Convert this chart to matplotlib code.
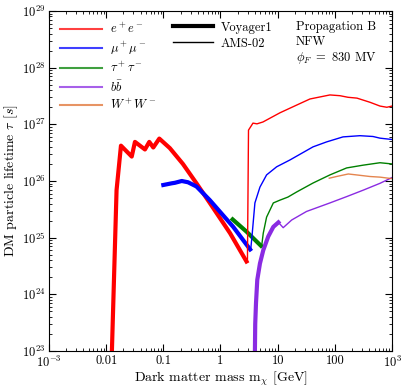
import matplotlib
matplotlib.use("Agg")
import matplotlib.pyplot as plt
from matplotlib.lines import Line2D
from matplotlib.ticker import LogLocator, FixedLocator, FixedFormatter, NullFormatter

plt.rcParams['font.family'] = 'serif'
plt.rcParams['font.serif'] = ['cmr10', 'DejaVu Serif']
plt.rcParams['mathtext.fontset'] = 'cm'
plt.rcParams['axes.unicode_minus'] = False
plt.rcParams['axes.formatter.use_mathtext'] = True

# Voyager1 (thick) curves: mass [GeV], lifetime [s]
voy_ee_m = [0.0126, 0.0152, 0.01815, 0.028, 0.0319, 0.0477, 0.0568, 0.0667, 0.085,
            0.13, 0.22, 0.38, 0.65, 1.47, 2.85]
voy_ee_t = [1.0e23, 6.9e25, 4.2e26, 2.7e26, 4.9e26, 3.6e26, 4.9e26, 3.9e26, 5.6e26,
            3.8e26, 2.0e26, 9.1e25, 4.1e25, 1.2e25, 3.8e24]
voy_mm_m = [0.1, 0.14, 0.16, 0.21, 0.27, 0.38, 0.65, 1.67, 3.3]
voy_mm_t = [8.5e25, 9.1e25, 9.3e25, 1.0e26, 9.5e25, 8.0e25, 4.6e25, 1.55e25, 6.2e24]
voy_tt_m = [1.63, 2.87, 5.1]
voy_tt_t = [2.1e25, 1.27e25, 7.2e24]
voy_bb_m = [4.0, 4.05, 4.18, 4.4, 4.9, 5.6, 6.85, 8.4, 10.3]
voy_bb_t = [1.0e23, 3.0e23, 7.0e23, 1.8e24, 3.5e24, 6.0e24, 1.05e25, 1.55e25, 1.86e25]

# AMS-02 (thin) curves
ams_ee_m = [2.96, 3.09, 3.7, 4.35, 5.53, 11.0, 21.8, 36.7, 82, 123, 170, 244, 412, 617, 813, 1000]
ams_ee_t = [3.7e24, 7.9e26, 1.05e27, 1.02e27, 1.1e27, 1.6e27, 2.2e27, 2.8e27, 3.3e27,
            3.2e27, 3.0e27, 2.9e27, 2.45e27, 2.1e27, 2.0e27, 2.1e27]
ams_mm_m = [3.37, 3.56, 4.0, 4.9, 6.4, 9.6, 16.4, 41.5, 72, 139, 275, 465, 617, 1000]
ams_mm_t = [6.0e24, 1.07e25, 4.1e25, 7.8e25, 1.28e26, 1.78e26, 2.35e26, 4.0e26, 4.9e26,
            6.0e26, 6.3e26, 6.1e26, 5.7e26, 5.4e26]
ams_tt_m = [5.25, 5.6, 6.4, 8.4, 11.0, 15.1, 21.5, 41.5, 82, 161, 310, 617, 1000]
ams_tt_t = [7.1e24, 1.2e25, 2.3e25, 4.1e25, 4.6e25, 5.2e25, 6.4e25, 9.2e25, 1.28e26,
            1.7e26, 1.9e26, 2.1e26, 2.0e26]
ams_bb_m = [10.3, 12.5, 17.6, 32, 82, 161, 315, 617, 1000]
ams_bb_t = [1.86e25, 1.5e25, 2.05e25, 2.9e25, 4.1e25, 5.3e25, 6.9e25, 9.1e25, 1.15e26]
ams_ww_m = [80, 107, 172, 240, 412, 617, 1000]
ams_ww_t = [1.12e26, 1.2e26, 1.33e26, 1.28e26, 1.2e26, 1.17e26, 1.1e26]

channels = [r'$e^+e^-$', r'$\mu^+\mu^-$', r'$\tau^+\tau^-$', r'$b\bar{b}$', r'$W^+W^-$']
colors = ['#ff0000', '#0000ff', '#008000', '#8a2be2', '#e07030']

fig = plt.figure(figsize=(4.07, 3.91), dpi=100)
ax = fig.add_axes([0.1204, 0.1023, 0.8427, 0.8696])

thick = 3.0
thin = 1.0
ax.plot(voy_ee_m, voy_ee_t, color=colors[0], lw=thick)
ax.plot(voy_mm_m, voy_mm_t, color=colors[1], lw=thick)
ax.plot(voy_tt_m, voy_tt_t, color=colors[2], lw=thick)
ax.plot(voy_bb_m, voy_bb_t, color=colors[3], lw=thick)

ax.plot(ams_ee_m, ams_ee_t, color=colors[0], lw=thin)
ax.plot(ams_mm_m, ams_mm_t, color=colors[1], lw=thin)
ax.plot(ams_tt_m, ams_tt_t, color=colors[2], lw=thin)
ax.plot(ams_bb_m, ams_bb_t, color=colors[3], lw=thin)
ax.plot(ams_ww_m, ams_ww_t, color=colors[4], lw=thin, alpha=0.85)

ax.set_xscale('log')
ax.set_yscale('log')
ax.set_xlim(1e-3, 1e3)
ax.set_ylim(1e23, 1e29)

xt = [1e-3, 1e-2, 1e-1, 1, 10, 100, 1e3]
xl = [r'$10^{-3}$', '0.01', '0.1', '1', '10', '100', r'$10^{3}$']
ax.xaxis.set_major_locator(FixedLocator(xt))
ax.xaxis.set_major_formatter(FixedFormatter(xl))
ax.xaxis.set_minor_locator(LogLocator(base=10, subs=range(2, 10), numticks=20))
ax.xaxis.set_minor_formatter(NullFormatter())
ax.yaxis.set_major_locator(LogLocator(base=10, numticks=10))
ax.yaxis.set_minor_locator(LogLocator(base=10, subs=range(2, 10), numticks=20))
ax.yaxis.set_minor_formatter(NullFormatter())

ax.tick_params(which='both', direction='in', top=True, right=True, labelsize=9)
ax.tick_params(which='major', length=5, pad=2.5)
ax.tick_params(which='minor', length=2.5)

ax.set_xlabel(r'Dark matter mass m$_\chi$ [GeV]', fontsize=10, labelpad=0)
ax.set_ylabel(r'DM particle lifetime $\tau$ [$s$]', fontsize=10, labelpad=1)

h1 = [Line2D([], [], color=c, lw=thin + 0.5, alpha=0.75) for c in colors]
leg1 = ax.legend(h1, channels, loc='upper left', frameon=False, fontsize=9,
                 handlelength=3.4, handletextpad=0.6, labelspacing=0.3,
                 borderaxespad=0.45)
ax.add_artist(leg1)
h2 = [Line2D([], [], color='black', lw=thick), Line2D([], [], color='black', lw=thin)]
ax.legend(h2, ['Voyager1', 'AMS-02'], loc='upper left', bbox_to_anchor=(0.33, 1.0),
          frameon=False, fontsize=9, handlelength=3.2, handletextpad=0.6,
          labelspacing=0.3, borderaxespad=0.45)

ax.text(0.72, 0.97, 'Propagation B\nNFW\n' + r'$\phi_F\ =\ 830$ MV', transform=ax.transAxes,
        ha='left', va='top', fontsize=9, linespacing=1.25)

fig.savefig('out.png', dpi=100)
